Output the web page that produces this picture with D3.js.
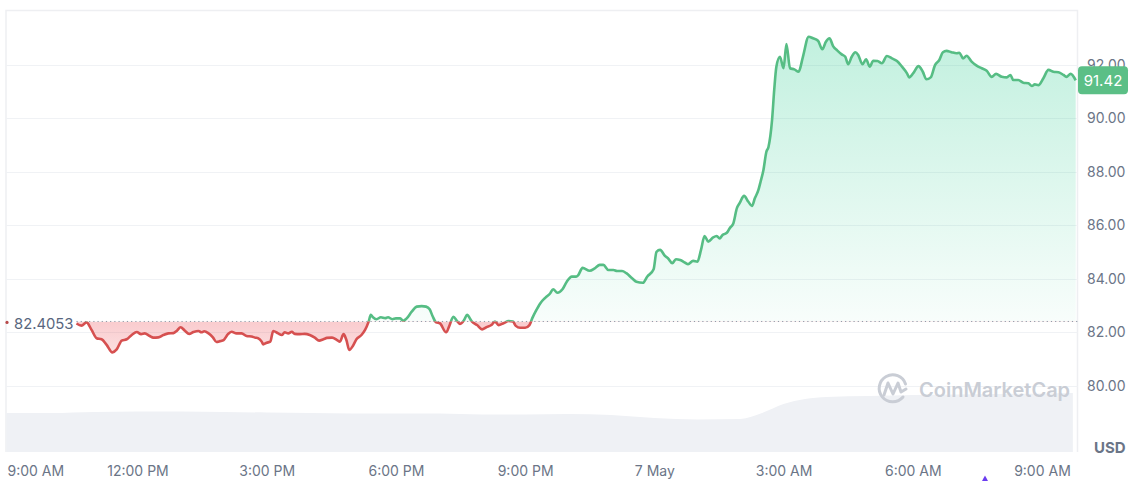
<!DOCTYPE html>
<html><head><meta charset="utf-8">
<script src="https://cdn.jsdelivr.net/npm/d3@7"></script>
<style>
body{margin:0;background:#fff;}
svg{display:block;font-family:Inter,"Noto Sans",sans-serif;}
</style>
</head><body>
<svg id="chart" width="1140" height="481"></svg>
<script>
// minutes after 9:00 AM, 6 May
const priceMinutes = [95,102,109,116,123,130,137,145,151,158,165,172,179,185,190,197,202,209,216,223,230,235,240,246,252,258,265,269,273,279,285,290,295,300,306,311,318,325,332,339,344,348,353,355,360,365,369,376,381,385,390,395,399,406,413,420,427,433,439,444,451,458,462,467,471,475,480,485,492,497,502,505,508,513,519,525,529,535,540,546,550,555,562,569,576,582,587,591,596,601,610,614,620,625,629,635,639,646,653,660,666,673,678,683,690,697,703,707,713,720,726,730,735,741,748,755,759,765,772,778,785,791,794,800,810,817,824,829,836,843,848,855,861,869,875,884,890,899,903,908,915,919,925,930,936,943,947,954,960,965,970,975,982,987,991,995,1001,1005,1010,1015,1019,1025,1031,1036,1040,1045,1048,1052,1056,1059,1064,1067,1070,1075,1080,1084,1089,1095,1101,1107,1115,1121,1128,1134,1139,1144,1149,1155,1161,1166,1170,1175,1180,1184,1190,1195,1200,1205,1211,1217,1224,1231,1238,1245,1252,1255,1261,1268,1274,1279,1285,1291,1297,1302,1307,1314,1321,1325,1330,1335,1342,1349,1356,1363,1370,1376,1384,1391,1396,1400,1407,1414,1421,1426,1430,1435,1442,1449,1456,1463,1470,1474,1480,1487];
const priceValues = [82.33,82.25,82.37,82.09,81.78,81.74,81.53,81.25,81.36,81.69,81.74,81.90,82.01,81.93,81.96,81.86,81.80,81.81,81.90,81.96,81.97,82.06,82.19,82.06,81.94,82.01,82.05,82.00,82.04,81.96,81.81,81.64,81.67,81.71,81.93,82.02,81.96,81.96,81.86,81.84,81.80,81.78,81.65,81.55,81.61,81.65,82.05,81.96,81.90,82.00,81.96,82.02,81.94,81.93,81.94,81.90,81.80,81.69,81.74,81.79,81.80,81.71,81.65,81.93,81.71,81.34,81.49,81.74,81.90,82.09,82.40,82.65,82.56,82.49,82.56,82.53,82.56,82.49,82.52,82.52,82.43,82.52,82.77,82.96,82.98,82.96,82.86,82.61,82.37,82.34,82.00,82.21,82.58,82.43,82.31,82.46,82.65,82.40,82.27,82.11,82.19,82.27,82.40,82.27,82.34,82.42,82.40,82.24,82.17,82.17,82.27,82.53,82.80,83.08,83.29,83.46,83.61,83.48,83.61,83.89,84.08,84.08,84.14,84.41,84.30,84.39,84.52,84.52,84.33,84.33,84.29,84.29,84.21,84.02,83.89,83.85,84.08,84.36,85.01,85.08,84.85,84.77,84.58,84.73,84.70,84.60,84.55,84.67,84.64,85.08,85.60,85.39,85.55,85.60,85.51,85.64,85.72,85.89,86.07,86.64,86.84,87.10,86.88,86.72,87.01,87.32,87.63,88.07,88.74,88.93,89.94,91.06,91.93,92.30,91.87,92.78,91.87,91.83,91.74,92.30,93.05,92.99,92.90,92.58,92.86,92.99,92.70,92.53,92.39,92.30,92.02,92.30,92.47,92.37,92.02,92.21,91.93,92.15,92.14,92.06,92.33,92.24,92.14,91.93,91.68,91.53,91.70,91.95,91.74,91.46,91.53,91.99,92.18,92.47,92.52,92.47,92.43,92.45,92.24,92.34,92.12,91.97,91.87,91.78,91.55,91.66,91.55,91.53,91.62,91.43,91.43,91.33,91.31,91.21,91.27,91.24,91.50,91.81,91.74,91.72,91.62,91.55,91.66,91.42];
const volumeMinutes = [-3,60,120,180,240,300,360,420,480,540,600,660,720,780,840,900,960,1020,1050,1080,1110,1140,1200,1260,1320,1380,1440,1483];
const volumeValues = [39,39,40,40.5,40.5,40,39.5,39,38.5,38.5,38.5,37.5,37.5,38,37,34,32.5,33,39,48,53,55,56,57,57.5,58,58.5,59];
const xTickMinutes = [0,180,360,540,720,900,1080,1260,1440];
const xTickLabels = ["9:00 AM","12:00 PM","3:00 PM","6:00 PM","9:00 PM","7 May","3:00 AM","6:00 AM","9:00 AM"];
const yTicks = [80,82,84,86,88,90,92];
const baselineValue = 82.4053;
const lastPrice = 91.42;

const startTime = new Date(2024,4,6,9,0,0);
const toDate = m => new Date(startTime.getTime() + m*60000);
const price = priceMinutes.map((m,i)=>({t:toDate(m), v:priceValues[i]}));
const volume = volumeMinutes.map((m,i)=>({t:toDate(m), v:volumeValues[i]}));

const GREEN = "#56bd84", RED = "#d65050";
const svg = d3.select("#chart");
const pL = 6, pR = 1077.5, pT = 10.5, pB = 452;

const x = d3.scaleTime().domain([toDate(-3.2), toDate(1489.5)]).range([pL, pR]);
const y = d3.scaleLinear().domain([80,92]).range([385.8, 64.8]);
const yv = d3.scaleLinear().domain([0,100]).range([pB, pB-100]);
const yb = y(baselineValue);

const defs = svg.append("defs");
const gg = defs.append("linearGradient").attr("id","gGrad").attr("gradientUnits","userSpaceOnUse")
  .attr("x1",0).attr("x2",0).attr("y1",40).attr("y2",yb);
gg.append("stop").attr("offset",0).attr("stop-color","#16c784").attr("stop-opacity",0.26);
gg.append("stop").attr("offset",1).attr("stop-color","#16c784").attr("stop-opacity",0.03);
const rg = defs.append("linearGradient").attr("id","rGrad").attr("gradientUnits","userSpaceOnUse")
  .attr("x1",0).attr("x2",0).attr("y1",yb).attr("y2",360);
rg.append("stop").attr("offset",0).attr("stop-color","#ea3943").attr("stop-opacity",0.26);
rg.append("stop").attr("offset",1).attr("stop-color","#ea3943").attr("stop-opacity",0.14);
defs.append("clipPath").attr("id","above").append("rect").attr("x",0).attr("y",0).attr("width",1140).attr("height",yb);
defs.append("clipPath").attr("id","below").append("rect").attr("x",0).attr("y",yb).attr("width",1140).attr("height",481-yb);

// frame
svg.append("path").attr("d",`M${pL},${pB}V${pT}H${pR}V${pB}`)
  .attr("fill","none").attr("stroke","#eeeff2").attr("stroke-width",1.5);

// grid
svg.append("g").selectAll("line").data(yTicks).join("line")
  .attr("x1",pL).attr("x2",pR).attr("y1",d=>Math.round(y(d))+0.5).attr("y2",d=>Math.round(y(d))+0.5)
  .attr("stroke","#f0f2f5").attr("stroke-width",1);

// volume
svg.append("path").datum(volume)
  .attr("d", d3.area().x(d=>x(d.t)).y0(pB).y1(d=>yv(d.v)).curve(d3.curveMonotoneX))
  .attr("fill","#eff1f5");

// watermark
const wm = svg.append("g").attr("fill","none").attr("stroke","#c9cdd5").attr("stroke-width",3).attr("stroke-linecap","round").attr("stroke-linejoin","round");
wm.append("path").attr("d","M905.5,384 A13.5,13.5 0 1 0 903,397");
wm.append("path").attr("d","M884,395 L888,383 L893,394 L898,383 L901,392 L906,389");
svg.append("text").attr("x",919).attr("y",397).attr("font-size",20).attr("font-weight",600)
  .attr("fill","#c9cdd5").text("CoinMarketCap");

// fills
const area = d3.area().x(d=>x(d.t)).y0(yb).y1(d=>y(d.v)).curve(d3.curveMonotoneX);
svg.append("path").datum(price).attr("d",area).attr("fill","url(#gGrad)").attr("clip-path","url(#above)");
svg.append("path").datum(price).attr("d",area).attr("fill","url(#rGrad)").attr("clip-path","url(#below)");

// baseline
svg.append("line").attr("x1",x(price[0].t)).attr("x2",pR).attr("y1",yb).attr("y2",yb)
  .attr("stroke","#8e97a6").attr("stroke-width",1).attr("stroke-dasharray","1.2,3");

// lines
const line = d3.line().x(d=>x(d.t)).y(d=>y(d.v)).curve(d3.curveMonotoneX);
svg.append("path").datum(price).attr("d",line).attr("fill","none").attr("stroke",GREEN)
  .attr("stroke-width",2.6).attr("stroke-linejoin","round").attr("clip-path","url(#above)");
svg.append("path").datum(price).attr("d",line).attr("fill","none").attr("stroke",RED)
  .attr("stroke-width",2.6).attr("stroke-linejoin","round").attr("clip-path","url(#below)");

// y axis
const yAxis = svg.append("g").attr("transform",`translate(1087,0)`)
  .call(d3.axisRight(y).tickValues(yTicks).tickSize(0).tickPadding(0).tickFormat(d3.format(".2f")));
yAxis.select(".domain").remove();
yAxis.selectAll("text").attr("font-size",14).attr("fill","#6b7587").attr("font-family","Inter,'Noto Sans',sans-serif");

// x axis
const xAxis = svg.append("g").attr("transform",`translate(0,${pB})`)
  .call(d3.axisBottom(x).tickValues(xTickMinutes.map(toDate)).tickSize(0).tickPadding(14)
    .tickFormat((d,i)=>xTickLabels[i]));
xAxis.select(".domain").remove();
xAxis.selectAll("text").attr("font-size",14).attr("fill","#6b7587").attr("font-family","Inter,'Noto Sans',sans-serif");
xAxis.selectAll(".tick").filter((d,i)=>i===0).select("text").attr("text-anchor","start").attr("x",7-x(toDate(0)));

// USD
svg.append("text").attr("x",1094).attr("y",453).attr("font-size",15).attr("font-weight",700)
  .attr("fill","#6b7587").text("USD");

// baseline label
svg.append("circle").attr("cx",7).attr("cy",yb+1).attr("r",1.6).attr("fill","#b84a4a");
svg.append("text").attr("x",14).attr("y",yb+7.5).attr("font-size",14.8).attr("fill","#58667e").text(baselineValue.toFixed(4));

// last price tag
const ly = y(lastPrice);
svg.append("rect").attr("x",1078).attr("y",ly-14).attr("width",50).attr("height",28).attr("rx",4).attr("fill","#5bbf86");
svg.append("text").attr("x",1103).attr("y",ly+5.5).attr("text-anchor","middle").attr("font-size",15)
  .attr("fill","#ffffff").text(lastPrice.toFixed(2));

// small purple marker
svg.append("path").attr("d","M982,481 L985,475.5 L988,481 Z").attr("fill","#6b3df0");
</script>
</body></html>
